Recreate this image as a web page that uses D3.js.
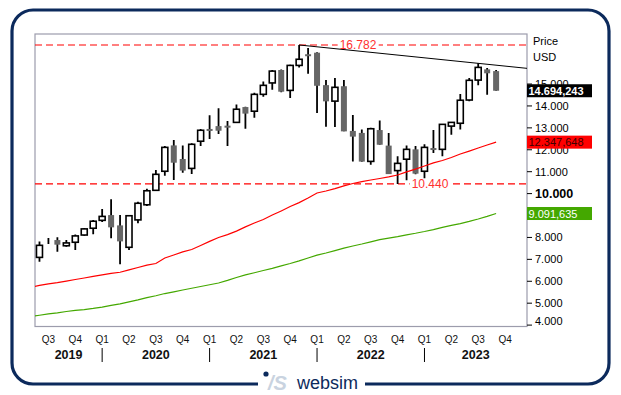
<!DOCTYPE html>
<html>
<head>
<meta charset="utf-8">
<script src="https://cdn.jsdelivr.net/npm/d3@7"></script>
<style>
	body { margin: 0; background: #ffffff; }
	svg { display: block; font-family: "Liberation Sans", Arial, sans-serif; }
</style>
</head>
<body>
<div id="chart"></div>
<script>
// monthly candles, Jun 2019 .. Sep 2023
const startMonth = new Date(2019, 5, 1);
const open  = [7.09, 7.82, 7.88, 7.62, 7.78, 8.11, 8.42, 8.78, 9.02, 8.55, 7.55, 8.80, 9.49,
	10.15, 11.02, 12.20, 11.58, 11.15, 12.39, 12.95, 13.08, 13.10, 13.25, 13.95, 13.76, 14.53,
	15.05, 15.64, 14.71, 15.85, 16.36, 16.43, 14.95, 14.22, 14.90, 12.86, 12.77, 11.47, 12.90,
	12.19, 11.05, 11.57, 12.02, 11.02, 12.08, 12.02, 13.08, 13.21, 14.27, 15.18, 15.67, 15.59];
const high  = [7.81, 7.97, 8.01, 7.88, 8.13, 8.43, 8.80, 9.30, 9.74, 9.02, 9.02, 9.63, 10.22,
	11.08, 12.17, 12.45, 12.20, 12.30, 12.95, 13.57, 13.89, 13.31, 14.07, 13.96, 14.60, 15.12,
	15.64, 15.66, 15.88, 16.782, 16.64, 16.45, 15.18, 15.27, 15.18, 13.59, 12.92, 13.01, 13.34,
	12.77, 11.70, 12.20, 12.17, 12.25, 12.90, 13.17, 13.26, 14.54, 15.27, 15.944, 15.73, 15.64];
const low   = [6.89, 7.70, 7.35, 7.58, 7.43, 8.08, 8.14, 8.70, 7.96, 6.78, 7.43, 8.65, 9.43,
	10.13, 10.82, 10.62, 10.95, 10.89, 12.17, 12.49, 12.72, 12.17, 13.25, 12.96, 13.46, 14.42,
	14.74, 14.63, 14.36, 15.76, 15.47, 13.68, 13.05, 13.04, 12.84, 11.47, 11.45, 11.32, 12.23,
	10.89, 10.44, 10.61, 10.88, 10.70, 11.85, 11.70, 12.69, 12.92, 14.21, 14.94, 14.51, 14.69];
const close = [7.64, 7.82, 7.67, 7.75, 8.07, 8.39, 8.74, 8.96, 8.46, 7.82, 8.99, 9.56, 10.13,
	10.88, 12.11, 11.41, 11.05, 12.25, 12.89, 12.90, 12.87, 13.06, 13.85, 13.65, 14.53, 14.94,
	15.59, 14.65, 15.85, 16.13, 16.32, 14.92, 14.21, 14.85, 12.84, 12.60, 11.46, 12.96, 12.23,
	10.89, 11.38, 12.02, 10.91, 12.11, 12.04, 13.16, 13.25, 14.26, 15.17, 15.76, 15.49, 14.694];

// moving averages, May 2019 .. Sep 2023 (one month earlier than candles)
const maRed = [5.72, 5.81, 5.88, 5.94, 6.01, 6.08, 6.15, 6.22, 6.29, 6.36, 6.41, 6.52, 6.63, 6.74,
	6.81, 7.06, 7.20, 7.34, 7.45, 7.63, 7.82, 8.00, 8.13, 8.29, 8.48, 8.66, 8.82, 9.02, 9.21,
	9.41, 9.59, 9.80, 10.03, 10.12, 10.23, 10.35, 10.46, 10.55, 10.62, 10.69, 10.76, 10.85,
	10.99, 11.12, 11.26, 11.40, 11.51, 11.65, 11.81, 11.94, 12.08, 12.22, 12.348];
const maGreen = [4.39, 4.45, 4.51, 4.56, 4.62, 4.67, 4.71, 4.76, 4.82, 4.90, 4.97, 5.06, 5.15,
	5.25, 5.34, 5.44, 5.52, 5.60, 5.68, 5.76, 5.84, 5.92, 6.04, 6.17, 6.29, 6.39, 6.49, 6.59,
	6.70, 6.81, 6.93, 7.06, 7.19, 7.29, 7.40, 7.51, 7.61, 7.70, 7.80, 7.90, 7.97, 8.04, 8.12,
	8.19, 8.27, 8.36, 8.46, 8.55, 8.63, 8.73, 8.84, 8.96, 9.092];

const levels = [16.782, 10.440];
const levelLabels = ['16.782', '10.440'];
const trendPoints = [[29, 16.782], [49, 15.944]];
const yTicks = [4, 5, 6, 7, 8, 9, 10, 11, 12, 13, 14, 15];
const lastValues = [14.694, 12.348, 9.092];
const lastLabels = ['14.694,243', '12.347,648', '9.091,635'];
const lastColors = ['#000000', '#ff0000', '#44a800'];
const lastText = ['#ffffff', '#400000', '#ffffff'];

const W = 621, H = 395;
const plot = {left: 35, right: 527, top: 34, bottom: 326.5};

const svg = d3.select('#chart').append('svg')
	.attr('width', W)
	.attr('height', H);

const x = d3.scaleLinear().domain([-0.5, 54.45]).range([plot.left, plot.right]);
const y = d3.scaleLinear().domain([4, 17]).range([325.1, 40.2]);

const months = d3.range(open.length).map(i => d3.timeMonth.offset(startMonth, i));
const candles = months.map((m, i) => ({i: i, m: m, o: open[i], h: high[i], l: low[i], c: close[i]}));

// frame
svg.append('path')
	.attr('d', 'M258,384 H33 A21,21 0 0 1 12,363 V31 A21,21 0 0 1 33,10 H588 A21,21 0 0 1 609,31 V363 A21,21 0 0 1 588,384 H365')
	.attr('fill', 'none')
	.attr('stroke', '#0c2a5c')
	.attr('stroke-width', 3.2);

svg.append('defs').append('clipPath').attr('id', 'clip')
	.append('rect')
	.attr('x', plot.left).attr('y', plot.top)
	.attr('width', plot.right - plot.left).attr('height', plot.bottom - plot.top);

svg.append('rect')
	.attr('x', plot.left).attr('y', plot.top)
	.attr('width', plot.right - plot.left).attr('height', plot.bottom - plot.top)
	.attr('fill', '#ffffff')
	.attr('stroke', '#9c9cac')
	.attr('stroke-width', 1.2);

const inner = svg.append('g').attr('clip-path', 'url(#clip)');

// support / resistance levels
inner.selectAll('line.level')
	.data(levels)
	.enter()
	.append('line')
	.attr('class', 'level')
	.attr('x1', plot.left).attr('x2', plot.right)
	.attr('y1', d => y(d)).attr('y2', d => y(d))
	.attr('stroke', '#ff0000')
	.attr('stroke-width', 1.2)
	.attr('stroke-dasharray', '7,4');

// trend line, extended to the right edge
let slope = (trendPoints[1][1] - trendPoints[0][1]) / (trendPoints[1][0] - trendPoints[0][0]);
let xEnd = x.domain()[1];
inner.append('line')
	.attr('x1', x(trendPoints[0][0]))
	.attr('y1', y(trendPoints[0][1]))
	.attr('x2', x(xEnd))
	.attr('y2', y(trendPoints[0][1] + slope * (xEnd - trendPoints[0][0])))
	.attr('stroke', '#000000')
	.attr('stroke-width', 1);

// candles
let bodyW = 6;
let cg = inner.selectAll('g.candle')
	.data(candles)
	.enter()
	.append('g')
	.attr('class', 'candle');

cg.append('line')
	.attr('x1', d => x(d.i)).attr('x2', d => x(d.i))
	.attr('y1', d => y(d.h)).attr('y2', d => y(d.l))
	.attr('stroke', '#000000')
	.attr('stroke-width', 1.8);

cg.append('rect')
	.attr('x', d => x(d.i) - bodyW / 2)
	.attr('y', d => y(Math.max(d.o, d.c)))
	.attr('width', bodyW)
	.attr('height', d => {
		let h = Math.abs(y(d.o) - y(d.c));
		if (d.c < d.o) return Math.max(h, 2);
		return h;
	})
	.attr('fill', d => d.c < d.o ? '#666666' : '#ffffff')
	.attr('stroke', d => d.c < d.o ? 'none' : '#000000')
	.attr('stroke-width', 1.6);

// moving averages
let maLine = d3.line()
	.x((d, i) => x(i - 1))
	.y(d => y(d));

inner.append('path')
	.attr('d', maLine(maGreen))
	.attr('fill', 'none')
	.attr('stroke', '#44a800')
	.attr('stroke-width', 1.2);

inner.append('path')
	.attr('d', maLine(maRed))
	.attr('fill', 'none')
	.attr('stroke', '#ff0000')
	.attr('stroke-width', 1.2);

// level labels
let levelX = [358, 430];
levels.forEach((v, k) => {
	let t = svg.append('text')
		.attr('x', levelX[k])
		.attr('y', y(v) + 4)
		.attr('text-anchor', 'middle')
		.attr('font-size', 12)
		.attr('fill', '#ff3030')
		.text(levelLabels[k]);
	let bb = t.node().getBBox();
	svg.insert('rect', () => t.node())
		.attr('x', bb.x - 2).attr('y', y(v) - 2)
		.attr('width', bb.width + 4).attr('height', 4)
		.attr('fill', '#ffffff');
});

// right axis
let axis = svg.append('g');
axis.selectAll('line')
	.data(yTicks)
	.enter()
	.append('line')
	.attr('x1', plot.right).attr('x2', plot.right + 5)
	.attr('y1', d => y(d)).attr('y2', d => y(d))
	.attr('stroke', '#000000');

axis.selectAll('text')
	.data(yTicks)
	.enter()
	.append('text')
	.attr('x', 535)
	.attr('y', d => Math.min(y(d), 321) + 4)
	.attr('font-size', d => d == 10 ? 12.5 : 11)
	.attr('font-weight', d => d == 10 ? 'bold' : 'normal')
	.attr('fill', '#000000')
	.text(d => d3.format('.3f')(d));

svg.append('text').attr('x', 533).attr('y', 45).attr('font-size', 11).text('Price');
svg.append('text').attr('x', 533).attr('y', 61).attr('font-size', 11).text('USD');

// last value boxes
lastValues.forEach((v, k) => {
	svg.append('rect')
		.attr('x', plot.right)
		.attr('y', y(v) - 6.5)
		.attr('width', 65)
		.attr('height', 13)
		.attr('fill', lastColors[k]);
	svg.append('text')
		.attr('x', plot.right + 1.5)
		.attr('y', y(v) + 4)
		.attr('font-size', 11)
		.attr('font-weight', k == 0 ? 'bold' : 'normal')
		.attr('fill', lastText[k])
		.text(lastLabels[k]);
});

// bottom axis: quarters and years
let quarters = candles.map(d => d.m).concat([d3.timeMonth.offset(startMonth, open.length)])
	.map((m, i) => ({i: i, m: m}))
	.filter(d => d.m.getMonth() % 3 == 0);

svg.selectAll('text.q')
	.data(quarters)
	.enter()
	.append('text')
	.attr('class', 'q')
	.attr('x', d => x(d.i))
	.attr('y', 343)
	.attr('text-anchor', 'middle')
	.attr('font-size', 10)
	.attr('fill', '#111111')
	.text(d => 'Q' + (d.m.getMonth() / 3 + 1));

let yearStarts = quarters.filter(d => d.m.getMonth() == 0);
svg.selectAll('line.sep')
	.data(yearStarts)
	.enter()
	.append('line')
	.attr('x1', d => x(d.i)).attr('x2', d => x(d.i))
	.attr('y1', 348).attr('y2', 362)
	.attr('stroke', '#000000');

let bounds = [plot.left].concat(yearStarts.map(d => x(d.i))).concat([plot.right]);
let years = [2019].concat(yearStarts.map(d => d.m.getFullYear()));
svg.selectAll('text.year')
	.data(years)
	.enter()
	.append('text')
	.attr('class', 'year')
	.attr('x', (d, k) => (bounds[k] + bounds[k + 1]) / 2)
	.attr('y', 359)
	.attr('text-anchor', 'middle')
	.attr('font-size', 12.5)
	.attr('font-weight', 'bold')
	.attr('fill', '#111111')
	.text(d => d);

// logo
let logo = svg.append('g');
logo.append('circle').attr('cx', 266).attr('cy', 374).attr('r', 2.6).attr('fill', '#0c2a5c');
logo.append('text')
	.attr('x', 268).attr('y', 390)
	.attr('font-size', 20)
	.attr('font-weight', 'bold')
	.attr('font-style', 'italic')
	.attr('fill', '#c9d3e0')
	.text('/S');
logo.append('text')
	.attr('x', 297).attr('y', 389)
	.attr('font-size', 18)
	.attr('fill', '#0c2a5c')
	.text('websim');
</script>
</body>
</html>
